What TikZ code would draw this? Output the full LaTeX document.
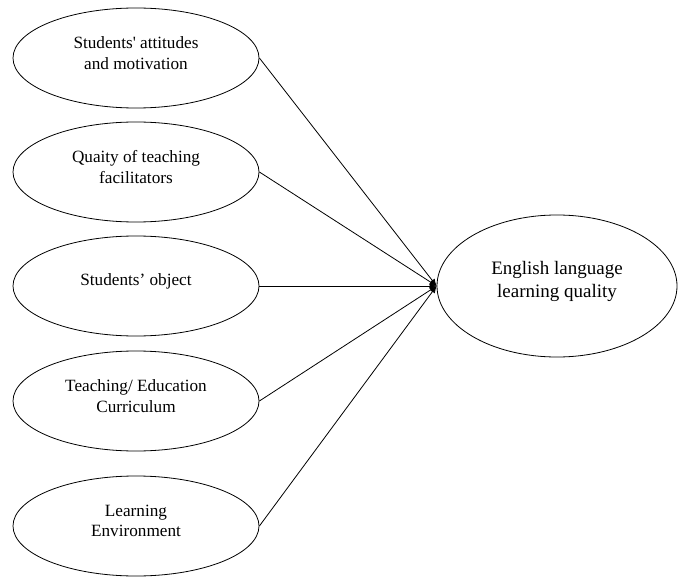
\documentclass[tikz,border=0pt]{standalone}
\usepackage{fontspec}
\setmainfont{Liberation Serif}
\usetikzlibrary{shapes.geometric,arrows.meta}
\begin{document}
\begin{tikzpicture}[x=1pt,y=-1pt,
  factor/.style={draw,ellipse,line width=0.8pt,minimum width=246pt,minimum height=100pt,inner sep=0pt,
    label={[align=center,font=\fontsize{17.2}{20.5}\selectfont,yshift=5pt]center:#1}},
  outcome/.style={draw,ellipse,line width=0.8pt,minimum width=240pt,minimum height=142pt,inner sep=0pt,
    label={[align=center,font=\fontsize{19}{23}\selectfont,yshift=5pt]center:#1}},
  link/.style={line width=0.8pt,-{Latex[length=7pt,width=6pt]}}]
\useasboundingbox (0,0) rectangle (679,577);
\node[factor={Students\textquotesingle{} attitudes\\and motivation}] (a) at (136,58) {};
\node[factor={Quaity of teaching\\facilitators}] (b) at (136,172) {};
\node[factor={Students’ object}] (c) at (136,286) {};
\node[factor={Teaching/ Education\\Curriculum}] (d) at (136,401) {};
\node[factor={Learning\\Environment}] (e) at (136,526) {};
\node[outcome={English language\\learning quality}] (f) at (557,286) {};
\foreach \n in {a,b,c,d,e} \draw[link] (\n.east) -- (f.west);
\end{tikzpicture}
\end{document}
